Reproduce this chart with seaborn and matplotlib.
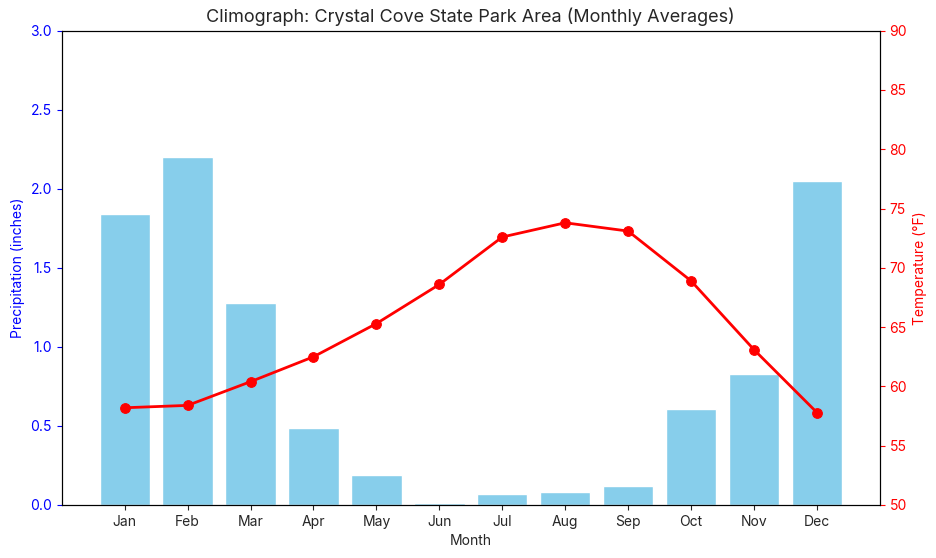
import matplotlib
matplotlib.use("Agg")
import matplotlib.pyplot as plt
import seaborn as sns
import pandas as pd

months = ['Jan', 'Feb', 'Mar', 'Apr', 'May', 'Jun', 'Jul', 'Aug', 'Sep', 'Oct', 'Nov', 'Dec']
precip = [1.84, 2.20, 1.28, 0.49, 0.19, 0.01, 0.07, 0.08, 0.12, 0.61, 0.83, 2.05]
temp = [58.2, 58.4, 60.4, 62.5, 65.3, 68.6, 72.6, 73.8, 73.1, 68.9, 63.1, 57.8]

sns.set_style("white")
plt.rcParams['font.family'] = ['Inter', 'DejaVu Sans']

df = pd.DataFrame({'Month': months, 'Precip': precip, 'Temp': temp})

fig, ax1 = plt.subplots(figsize=(9.36, 5.58), dpi=100)
sns.barplot(data=df, x='Month', y='Precip', color='skyblue', saturation=1, width=0.8, ax=ax1)
ax1.set_ylim(0, 3.0)
ax1.set_xlim(-1, 12)
ax1.set_ylabel('Precipitation (inches)', color='blue')
ax1.set_xlabel('Month')
ax1.tick_params(axis='y', colors='blue')
ax1.tick_params(axis='both', left=True, bottom=True)

ax2 = ax1.twinx()
sns.lineplot(data=df, x='Month', y='Temp', color='red', marker='o', markersize=7,
             markeredgecolor='red', linewidth=2, ax=ax2, sort=False)
ax2.set_ylim(50, 90)
ax2.set_ylabel('Temperature (°F)', color='red')
ax2.tick_params(axis='y', colors='red', right=True)
for a in (ax1, ax2):
    for s in a.spines.values():
        s.set_color('black')

ax1.set_title('Climograph: Crystal Cove State Park Area (Monthly Averages)', fontsize=13)
fig.subplots_adjust(left=0.066, right=0.94, top=0.945, bottom=0.095)
fig.savefig('out.png')
